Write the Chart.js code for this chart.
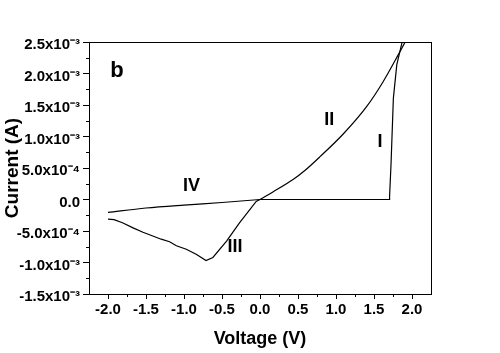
<!DOCTYPE html>
<html><head><meta charset="utf-8">
<script src="https://cdn.jsdelivr.net/npm/chart.js@4/dist/chart.umd.min.js"></script>
<style>html,body{margin:0;padding:0;background:#fff;}canvas{display:block;}</style>
</head><body>
<canvas id="c" width="500" height="353"></canvas>
<script>
// ---- data (voltage V, current A) ----
const curveI_V = [0, 0.5, 1.0, 1.5, 1.70, 1.705, 1.724, 1.755, 1.80, 1.87, 1.90];
const curveI_A = [0, 0, 0, 0, 0, 5e-5, 5.6e-4, 1.61e-3, 2.14e-3, 2.5e-3, 2.65e-3];

const curveII_V = [0, 0.17, 0.435, 0.59, 0.79, 1.095, 1.40, 1.62, 1.82, 1.91, 1.95];
const curveII_A = [0, 1.2e-4, 3.16e-4, 4.6e-4, 6.8e-4, 1.04e-3, 1.47e-3, 1.87e-3, 2.3e-3, 2.5e-3, 2.6e-3];

const curveIII_V = [-2.0, -1.92, -1.81, -1.67, -1.54, -1.41, -1.30, -1.19, -1.10, -0.97, -0.84, -0.71, -0.62, -0.44, -0.27, -0.05, 0];
const curveIII_A = [-3.1e-4, -3.2e-4, -3.7e-4, -4.5e-4, -5.2e-4, -5.8e-4, -6.3e-4, -6.7e-4, -7.35e-4, -7.9e-4, -8.7e-4, -9.7e-4, -9.2e-4, -6.6e-4, -3.7e-4, -3e-5, 0];

const curveIV_V = [-2.0, -1.5, -1.0, -0.5, 0];
const curveIV_A = [-2.05e-4, -1.35e-4, -8.8e-5, -4.8e-5, 0];

const xTickValues = [-2.0, -1.5, -1.0, -0.5, 0.0, 0.5, 1.0, 1.5, 2.0];
const xTickLabels = ['-2.0', '-1.5', '-1.0', '-0.5', '0.0', '0.5', '1.0', '1.5', '2.0'];
const yTickValues = [-1.5e-3, -1.0e-3, -5e-4, 0, 5e-4, 1.0e-3, 1.5e-3, 2.0e-3, 2.5e-3];
const yTickLabels = ['-1.5x10\u207B\u00B3', '-1.0x10\u207B\u00B3', '-5.0x10\u207B\u2074', '0.0',
  '5.0x10\u207B\u2074', '1.0x10\u207B\u00B3', '1.5x10\u207B\u00B3', '2.0x10\u207B\u00B3', '2.5x10\u207B\u00B3'];

// curve labels (text, voltage, current)
const curveLabelText = ['b', 'II', 'I', 'IV', 'III'];
const curveLabelV = [-1.97, 0.91, 1.58, -0.90, -0.33];
const curveLabelA = [1.94e-3, 1.26e-3, 9.2e-4, 2.2e-4, -7.6e-4];

const FONT = "'Liberation Sans', Arial, sans-serif";
const pts = (xs, ys) => xs.map((x, i) => ({x, y: ys[i]}));
const ds = (xs, ys, smooth) => ({data: pts(xs, ys), borderColor: '#000', borderWidth: 1.2, pointRadius: 0,
  tension: smooth ? 0.4 : 0, cubicInterpolationMode: smooth ? 'monotone' : 'default', fill: false});

const extras = {
  id: 'extras',
  afterDraw(chart) {
    const {ctx, chartArea: a, scales: {x, y}} = chart;
    ctx.save();
    ctx.strokeStyle = '#000';
    ctx.lineWidth = 1;
    // box
    ctx.strokeRect(Math.round(a.left) + 0.5, Math.round(a.top) + 0.5, Math.round(a.right - a.left), Math.round(a.bottom - a.top));
    // minor ticks
    ctx.beginPath();
    for (let i = 0; i < xTickValues.length - 1; i++) {
      const v = (xTickValues[i] + xTickValues[i + 1]) / 2;
      const px = Math.round(x.getPixelForValue(v)) + 0.5;
      ctx.moveTo(px, a.bottom); ctx.lineTo(px, a.bottom + 3);
    }
    for (let i = 0; i < yTickValues.length - 1; i++) {
      const v = (yTickValues[i] + yTickValues[i + 1]) / 2;
      const py = Math.round(y.getPixelForValue(v)) + 0.5;
      ctx.moveTo(a.left - 3, py); ctx.lineTo(a.left, py);
    }
    ctx.stroke();
    // curve labels
    ctx.fillStyle = '#000';
    curveLabelText.forEach((t, i) => {
      const px = x.getPixelForValue(curveLabelV[i]);
      const py = y.getPixelForValue(curveLabelA[i]);
      if (t === 'b') {
        ctx.font = 'bold 22px ' + FONT;
        ctx.textAlign = 'left';
        ctx.textBaseline = 'alphabetic';
      } else {
        ctx.font = 'bold 18px ' + FONT;
        ctx.textAlign = 'center';
        ctx.textBaseline = 'middle';
      }
      ctx.fillText(t, px, py);
    });
    ctx.restore();
  }
};

new Chart(document.getElementById('c'), {
  type: 'line',
  data: {
    datasets: [ds(curveI_V, curveI_A, false), ds(curveII_V, curveII_A, true), ds(curveIII_V, curveIII_A, false), ds(curveIV_V, curveIV_A, true)]
  },
  options: {
    responsive: false,
    animation: false,
    devicePixelRatio: 1,
    layout: {padding: {left: 0, right: 69, top: 42, bottom: 0}},
    plugins: {legend: {display: false}, tooltip: {enabled: false}},
    scales: {
      x: {
        type: 'linear', min: -2.25, max: 2.25,
        afterBuildTicks: s => { s.ticks = xTickValues.map(v => ({value: v})); },
        afterFit: s => { s.height = 59; },
        grid: {drawOnChartArea: false, drawTicks: true, tickLength: 5, color: '#000'},
        border: {display: true, color: '#000', width: 1},
        ticks: {
          color: '#000', padding: 2, maxRotation: 0, autoSkip: false,
          font: {family: FONT, size: 15, weight: 'bold'},
          callback: v => { const i = xTickValues.findIndex(t => Math.abs(t - v) < 1e-9); return i >= 0 ? xTickLabels[i] : ''; }
        },
        title: {display: true, text: 'Voltage (V)', color: '#000', font: {family: FONT, size: 18, weight: 'bold'}, padding: {top: 0, bottom: 3}}
      },
      y: {
        type: 'linear', min: -1.5e-3, max: 2.5e-3,
        afterBuildTicks: s => { s.ticks = yTickValues.map(v => ({value: v})); },
        afterFit: s => { s.width = 89; },
        grid: {drawOnChartArea: false, drawTicks: true, tickLength: 6, color: '#000'},
        border: {display: true, color: '#000', width: 1},
        ticks: {
          color: '#000', padding: 3, autoSkip: false, labelOffset: 3,
          font: {family: FONT, size: 15, weight: 'bold'},
          callback: v => { const i = yTickValues.findIndex(t => Math.abs(t - v) < 1e-12); return i >= 0 ? yTickLabels[i] : ''; }
        },
        title: {display: true, text: 'Current (A)', color: '#000', font: {family: FONT, size: 19, weight: 'bold'}, padding: {top: 1, bottom: 0}}
      }
    }
  },
  plugins: [extras]
});
</script>
</body></html>
